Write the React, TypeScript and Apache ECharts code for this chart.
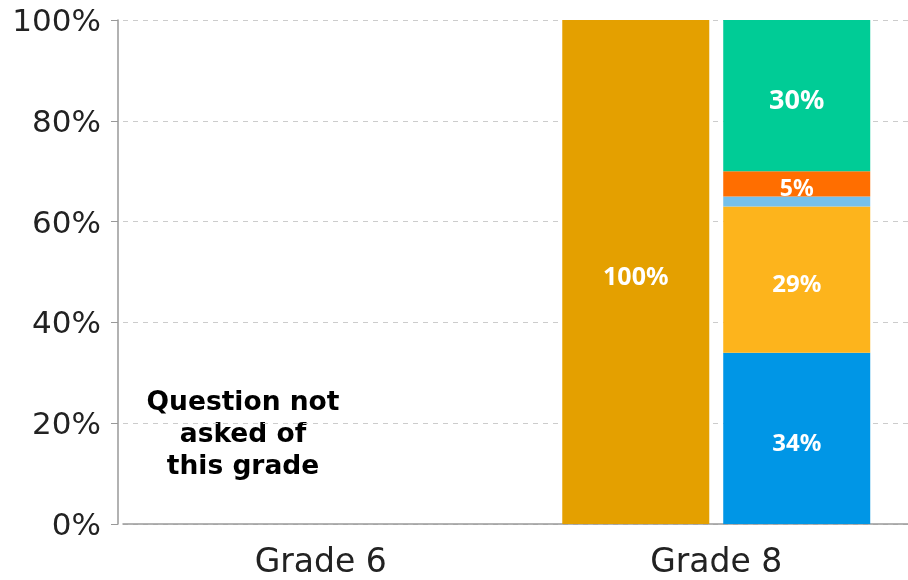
import React, { useEffect, useRef } from "react";
import * as echarts from "echarts";

const categories = ["Grade 6", "Grade 8"];
const yTicks = [0, 20, 40, 60, 80, 100];
const overallValues = [null, 100];
const seg1Values = [null, 34];
const seg2Values = [null, 29];
const seg3Values = [null, 2];
const seg4Values = [null, 5];
const seg5Values = [null, 30];
const noteText = "Question not\nasked of\nthis grade";

const labelStyle = (fontSize: number) => ({
  show: true,
  position: "inside",
  offset: [0, 3],
  color: "#ffffff",
  fontFamily: "Noto Sans",
  fontWeight: "bold",
  fontSize,
  formatter: (p: any) => (p.value == null ? "" : p.value + "%"),
});

export default function App() {
  const ref = useRef<HTMLDivElement>(null);
  useEffect(() => {
    const chart = echarts.init(ref.current!, undefined, { renderer: "svg" });
    const mk = (name: string, data: any[], color: string, stack: string, fontSize = 0) => ({
      name,
      type: "bar",
      stack,
      data,
      barWidth: 147,
      barGap: "9.5%",
      itemStyle: { color },
      label: fontSize ? labelStyle(fontSize) : { show: false },
      emphasis: { disabled: true },
    });
    chart.setOption({
      animation: false,
      grid: { left: 123, width: 791, top: 20, height: 504, outerBoundsMode: "none", containLabel: false },
      xAxis: {
        type: "category",
        data: categories,
        axisLine: { lineStyle: { color: "#999999", width: 1.5 } },
        axisTick: { show: false },
        axisLabel: {
          color: "#222222",
          fontFamily: "DejaVu Sans",
          fontSize: 33,
          margin: 20,
        },
      },
      yAxis: {
        type: "value",
        min: 0,
        max: 100,
        interval: 20,
        offset: 5,
        axisLine: { show: true, lineStyle: { color: "#999999", width: 1.5 } },
        axisTick: { show: true, length: 7, lineStyle: { color: "#999999" } },
        splitLine: { lineStyle: { color: "#cccccc", type: [5, 5] } },
        axisLabel: {
          color: "#222222",
          fontFamily: "DejaVu Sans",
          fontSize: 31,
          margin: 17,
          formatter: (v: number) => (yTicks.includes(v) ? v + "%" : ""),
        },
      },
      graphic: [
        {
          type: "text",
          x: 243,
          y: 384,
          style: {
            text: noteText,
            fill: "#000000",
            font: "bold 26.5px 'DejaVu Sans'",
            align: "center",
            verticalAlign: "top",
            lineHeight: 32,
          },
        },
      ],
      series: [
        mk("All", overallValues, "#E4A000", "a", 25),
        mk("S1", seg1Values, "#0096E6", "b", 24),
        mk("S2", seg2Values, "#FDB41C", "b", 24),
        mk("S3", seg3Values, "#75C0EB", "b", 0),
        mk("S4", seg4Values, "#FF6E00", "b", 23),
        mk("S5", seg5Values, "#00CC96", "b", 27),
      ],
    });
    return () => chart.dispose();
  }, []);
  return (
    <div
      ref={ref}
      style={{ position: "fixed", left: 0, top: 0, width: 908, height: 580 }}
    />
  );
}
